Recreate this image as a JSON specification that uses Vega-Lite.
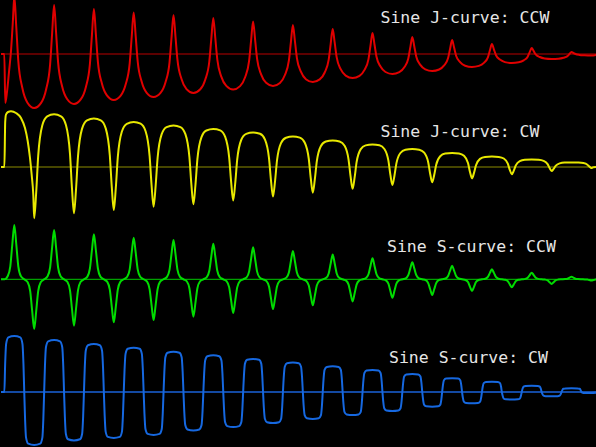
{
"$schema":"https://vega.github.io/schema/vega-lite/v6.json",
"padding":0,
"spacing":0,
"bounds":"flush",
"background":"#000000",
"config":{"view":{"stroke":null},"axis":{"disable":true}},
"vconcat":[
{"width":596,"height":110,"layer":[
{"data":{"values":[{"v":0}]},"mark":{"type":"rule","color":"#b80000","strokeWidth":1},"encoding":{"y":{"field":"v","type":"quantitative","axis":null}}},
{"data":{"values":[{"x":0,"v":0},{"x":3.3,"v":0},{"x":4.3,"v":-49},{"x":6,"v":-38},{"x":8,"v":-18},{"x":10,"v":3},{"x":12,"v":35},{"x":13.3,"v":58},
{"x":15.3,"v":26.6},{"x":17.3,"v":-7},{"x":21.3,"v":-33.8},{"x":26.3,"v":-48.4},{"x":33.2,"v":-54},
{"x":40.1,"v":-48.9},{"x":45.1,"v":-35.5},{"x":49.1,"v":-10.7},{"x":51.1,"v":20.2},{"x":53.1,"v":49},
{"x":55.1,"v":21.3},{"x":57.1,"v":-8.4},{"x":61.1,"v":-32.2},{"x":66.1,"v":-45},{"x":73,"v":-50},
{"x":79.9,"v":-45.2},{"x":84.9,"v":-32.9},{"x":88.9,"v":-10.1},{"x":90.9,"v":18.4},{"x":92.9,"v":45},
{"x":94.9,"v":19.5},{"x":96.9,"v":-7.8},{"x":100.9,"v":-29.6},{"x":105.9,"v":-41.4},{"x":112.8,"v":-46},
{"x":119.7,"v":-41.6},{"x":124.7,"v":-30.3},{"x":128.7,"v":-9.3},{"x":130.7,"v":17},{"x":132.7,"v":41.5},
{"x":134.7,"v":17.8},{"x":136.7,"v":-7.5},{"x":140.7,"v":-27.8},{"x":145.7,"v":-38.8},{"x":152.6,"v":-43},
{"x":159.5,"v":-38.9},{"x":164.5,"v":-28.2},{"x":168.5,"v":-8.6},{"x":170.5,"v":16},{"x":172.5,"v":39},
{"x":174.5,"v":17.2},{"x":176.5,"v":-6.2},{"x":180.5,"v":-25},{"x":185.5,"v":-35.1},{"x":192.4,"v":-39},
{"x":199.3,"v":-35.3},{"x":204.3,"v":-25.5},{"x":208.3,"v":-7.5},{"x":210.3,"v":15},{"x":212.3,"v":36},
{"x":214.3,"v":16},{"x":216.3,"v":-5.5},{"x":220.3,"v":-22.6},{"x":225.3,"v":-31.9},{"x":232.2,"v":-35.5},
{"x":239.1,"v":-32.1},{"x":244.1,"v":-23.3},{"x":248.1,"v":-6.9},{"x":250.1,"v":13.5},{"x":252.1,"v":32.5},
{"x":254.1,"v":14.4},{"x":256.1,"v":-4.9},{"x":260.1,"v":-20.4},{"x":265.1,"v":-28.8},{"x":272,"v":-32},
{"x":278.9,"v":-29},{"x":283.9,"v":-21},{"x":287.9,"v":-6.4},{"x":289.9,"v":11.9},{"x":291.9,"v":29},
{"x":293.9,"v":13},{"x":295.9,"v":-4.1},{"x":299.9,"v":-17.7},{"x":304.9,"v":-25.2},{"x":311.8,"v":-28},
{"x":318.7,"v":-25.4},{"x":323.7,"v":-18.5},{"x":327.7,"v":-5.7},{"x":329.7,"v":10.2},{"x":331.7,"v":25},
{"x":333.7,"v":11.3},{"x":335.7,"v":-3.4},{"x":339.7,"v":-15.2},{"x":344.7,"v":-21.6},{"x":351.6,"v":-24},
{"x":358.5,"v":-21.8},{"x":363.5,"v":-15.9},{"x":367.5,"v":-5.1},{"x":369.5,"v":8.4},{"x":371.5,"v":21},
{"x":373.5,"v":9.5},{"x":375.5,"v":-2.8},{"x":379.5,"v":-12.6},{"x":384.5,"v":-18},{"x":391.4,"v":-20},
{"x":398.3,"v":-18.2},{"x":403.3,"v":-13.3},{"x":407.3,"v":-4.5},{"x":409.3,"v":6.6},{"x":411.3,"v":17},
{"x":413.3,"v":7.5},{"x":415.3,"v":-2.7},{"x":419.3,"v":-10.9},{"x":424.3,"v":-15.3},{"x":431.2,"v":-17},
{"x":438.1,"v":-15.5},{"x":443.1,"v":-11.4},{"x":447.1,"v":-4},{"x":449.1,"v":5.3},{"x":451.1,"v":14},
{"x":453.1,"v":6.4},{"x":455.1,"v":-1.7},{"x":459.1,"v":-8.1},{"x":464.1,"v":-11.7},{"x":471,"v":-13},
{"x":477.9,"v":-11.9},{"x":482.9,"v":-8.9},{"x":486.9,"v":-3.3},{"x":488.9,"v":3.6},{"x":490.9,"v":10},
{"x":492.9,"v":4.7},{"x":494.9,"v":-1},{"x":498.9,"v":-5.6},{"x":503.9,"v":-8.1},{"x":510.8,"v":-9},
{"x":517.7,"v":-8.3},{"x":522.7,"v":-6.3},{"x":526.7,"v":-2.7},{"x":528.7,"v":1.8},{"x":530.7,"v":6},
{"x":532.7,"v":2.9},{"x":534.7,"v":-0.4},{"x":538.7,"v":-3},{"x":543.7,"v":-4.5},{"x":550.6,"v":-5},
{"x":557.5,"v":-4.7},{"x":562.5,"v":-3.7},{"x":566.5,"v":-2.1},{"x":568.5,"v":0},{"x":570.5,"v":2},
{"x":572.5,"v":1},{"x":574.5,"v":0},{"x":578.5,"v":-0.9},{"x":583.5,"v":-1.3},{"x":590.4,"v":-1.5},{"x":596,"v":-0.8}]},
 "mark":{"type":"line","color":"#e00000","strokeWidth":2,"interpolate":"monotone","clip":true},
 "encoding":{"x":{"field":"x","type":"quantitative","scale":{"domain":[0,596],"nice":false,"zero":false},"axis":null},
 "y":{"field":"v","type":"quantitative","scale":{"domain":[-56,54],"nice":false,"zero":false},"axis":null}}},
{"data":{"values":[{"label":"Sine J-curve: CCW","x":379.5,"v":31.5}]},"mark":{"type":"text","font":"DejaVu Sans Mono","fontSize":16.5,"color":"#e6e6e6","align":"left","baseline":"alphabetic"},"encoding":{"text":{"field":"label","type":"nominal"},"x":{"field":"x","type":"quantitative","axis":null},"y":{"field":"v","type":"quantitative","axis":null}}}
]},
{"width":596,"height":111,"layer":[
{"data":{"values":[{"v":0}]},"mark":{"type":"rule","color":"#8c8c00","strokeWidth":1.2},"encoding":{"y":{"field":"v","type":"quantitative","axis":null}}},
{"data":{"values":[{"x":0,"v":0},{"x":3.4,"v":0},{"x":4.2,"v":45},{"x":5,"v":52.5},{"x":7,"v":55},{"x":10,"v":55.7},{"x":15,"v":54},{"x":20,"v":49},{"x":24,"v":39},{"x":26.7,"v":26},{"x":29,"v":9},{"x":30.7,"v":-8},{"x":32.3,"v":-28},{"x":33.2,"v":-51.3},
{"x":35.2,"v":-25.3},{"x":37.2,"v":11.1},{"x":41.2,"v":41.3},{"x":46.2,"v":50.6},{"x":53.1,"v":52.7},
{"x":60,"v":50.7},{"x":65,"v":41.8},{"x":69,"v":13.1},{"x":71,"v":-21.6},{"x":73,"v":-46.3},
{"x":75,"v":-22.6},{"x":77,"v":10.6},{"x":81,"v":38.1},{"x":86,"v":46.6},{"x":92.9,"v":48.5},
{"x":99.8,"v":46.7},{"x":104.8,"v":38.4},{"x":108.8,"v":11.9},{"x":110.8,"v":-20.1},{"x":112.8,"v":-43},
{"x":114.8,"v":-21},{"x":116.8,"v":9.8},{"x":120.8,"v":35.3},{"x":125.8,"v":43.2},{"x":132.7,"v":45},
{"x":139.6,"v":43.3},{"x":144.6,"v":35.7},{"x":148.6,"v":11.1},{"x":150.6,"v":-18.5},{"x":152.6,"v":-39.7},
{"x":154.6,"v":-19.4},{"x":156.6,"v":9},{"x":160.6,"v":32.6},{"x":165.6,"v":39.9},{"x":172.5,"v":41.5},
{"x":179.4,"v":39.9},{"x":184.4,"v":32.8},{"x":188.4,"v":10},{"x":190.4,"v":-17.6},{"x":192.4,"v":-37.3},
{"x":194.4,"v":-18.5},{"x":196.4,"v":7.9},{"x":200.4,"v":29.7},{"x":205.4,"v":36.5},{"x":212.3,"v":38},
{"x":219.2,"v":36.6},{"x":224.2,"v":30.1},{"x":228.2,"v":9.4},{"x":230.2,"v":-15.6},{"x":232.2,"v":-33.5},
{"x":234.2,"v":-16.5},{"x":236.2,"v":7.3},{"x":240.2,"v":27},{"x":245.2,"v":33.1},{"x":252.1,"v":34.5},
{"x":259,"v":33.2},{"x":264,"v":27.4},{"x":268,"v":8.9},{"x":270,"v":-13.6},{"x":272,"v":-29.6},
{"x":274,"v":-14.6},{"x":276,"v":6.5},{"x":280,"v":23.9},{"x":285,"v":29.3},{"x":291.9,"v":30.5},
{"x":298.8,"v":29.4},{"x":303.8,"v":24.3},{"x":307.8,"v":8},{"x":309.8,"v":-11.7},{"x":311.8,"v":-25.7},
{"x":313.8,"v":-12.7},{"x":315.8,"v":5.6},{"x":319.8,"v":20.8},{"x":324.8,"v":25.5},{"x":331.7,"v":26.5},
{"x":338.6,"v":25.5},{"x":343.6,"v":21.2},{"x":347.6,"v":7.2},{"x":349.6,"v":-9.7},{"x":351.6,"v":-21.8},
{"x":353.6,"v":-10.7},{"x":355.6,"v":4.8},{"x":359.6,"v":17.6},{"x":364.6,"v":21.6},{"x":371.5,"v":22.5},
{"x":378.4,"v":21.7},{"x":383.4,"v":18},{"x":387.4,"v":6.3},{"x":389.4,"v":-7.9},{"x":391.4,"v":-18},
{"x":393.4,"v":-9},{"x":395.4,"v":3.6},{"x":399.4,"v":14},{"x":404.4,"v":17.3},{"x":411.3,"v":18},
{"x":418.2,"v":17.3},{"x":423.2,"v":14.3},{"x":427.2,"v":4.7},{"x":429.2,"v":-7},{"x":431.2,"v":-15.3},
{"x":433.2,"v":-8},{"x":435.2,"v":2.3},{"x":439.2,"v":10.8},{"x":444.2,"v":13.4},{"x":451.1,"v":14},
{"x":458,"v":13.5},{"x":463,"v":11.2},{"x":467,"v":3.9},{"x":469,"v":-5},{"x":471,"v":-11.3},
{"x":473,"v":-5.9},{"x":475,"v":1.8},{"x":479,"v":8.1},{"x":484,"v":10.1},{"x":490.9,"v":10.5},
{"x":497.8,"v":10.1},{"x":502.8,"v":8.5},{"x":506.8,"v":3.4},{"x":508.8,"v":-2.9},{"x":510.8,"v":-7.3},
{"x":512.8,"v":-3.6},{"x":514.8,"v":1.6},{"x":518.8,"v":5.9},{"x":523.8,"v":7.2},{"x":530.7,"v":7.5},
{"x":537.6,"v":7.3},{"x":542.6,"v":6.2},{"x":546.6,"v":2.9},{"x":548.6,"v":-1.1},{"x":550.6,"v":-4},
{"x":552.6,"v":-1.9},{"x":554.6,"v":1.1},{"x":558.6,"v":3.6},{"x":563.6,"v":4.4},{"x":570.5,"v":4.5},
{"x":577.5,"v":4.4},{"x":582.4,"v":3.9},{"x":586.4,"v":2.3},{"x":588.4,"v":0.4},{"x":590.4,"v":-1},{"x":592.4,"v":-0.2},{"x":596,"v":0}]},
 "mark":{"type":"line","color":"#e8e800","strokeWidth":2,"interpolate":"monotone","clip":true},
 "encoding":{"x":{"field":"x","type":"quantitative","scale":{"domain":[0,596],"nice":false,"zero":false},"axis":null},
 "y":{"field":"v","type":"quantitative","scale":{"domain":[-54,57],"nice":false,"zero":false},"axis":null}}},
{"data":{"values":[{"label":"Sine J-curve: CW","x":379.5,"v":29.7}]},"mark":{"type":"text","font":"DejaVu Sans Mono","fontSize":16.5,"color":"#e6e6e6","align":"left","baseline":"alphabetic"},"encoding":{"text":{"field":"label","type":"nominal"},"x":{"field":"x","type":"quantitative","axis":null},"y":{"field":"v","type":"quantitative","axis":null}}}
]},
{"width":596,"height":113,"layer":[
{"data":{"values":[{"v":0}]},"mark":{"type":"rule","color":"#00a000","strokeWidth":1.2},"encoding":{"y":{"field":"v","type":"quantitative","axis":null}}},
{"data":{"values":[{"x":0,"v":0},{"x":3.4,"v":0},{"x":6.8,"v":3.3},{"x":9.3,"v":13},{"x":11.3,"v":34.8},{"x":13.3,"v":54.3},{"x":15.3,"v":34.8},{"x":17.3,"v":13},{"x":19.8,"v":3.3},{"x":23.25,"v":0},
{"x":26.7,"v":-3},{"x":29.2,"v":-11.9},{"x":31.2,"v":-31.8},{"x":33.2,"v":-49.7},{"x":35.2,"v":-31.8},{"x":37.2,"v":-11.9},{"x":39.7,"v":-3},{"x":43.15,"v":0},
{"x":46.6,"v":3},{"x":49.1,"v":11.8},{"x":51.1,"v":31.6},{"x":53.1,"v":49.3},{"x":55.1,"v":31.6},{"x":57.1,"v":11.8},{"x":59.6,"v":3},{"x":63.05,"v":0},
{"x":66.5,"v":-2.8},{"x":69,"v":-11.1},{"x":71,"v":-29.7},{"x":73,"v":-46.4},{"x":75,"v":-29.7},{"x":77,"v":-11.1},{"x":79.5,"v":-2.8},{"x":82.95,"v":0},
{"x":86.4,"v":2.7},{"x":88.9,"v":10.8},{"x":90.9,"v":28.8},{"x":92.9,"v":45},{"x":94.9,"v":28.8},{"x":96.9,"v":10.8},{"x":99.4,"v":2.7},{"x":102.85,"v":0},
{"x":106.3,"v":-2.6},{"x":108.8,"v":-10.3},{"x":110.8,"v":-27.5},{"x":112.8,"v":-43},{"x":114.8,"v":-27.5},{"x":116.8,"v":-10.3},{"x":119.3,"v":-2.6},{"x":122.75,"v":0},
{"x":126.2,"v":2.5},{"x":128.7,"v":10},{"x":130.7,"v":26.6},{"x":132.7,"v":41.6},{"x":134.7,"v":26.6},{"x":136.7,"v":10},{"x":139.2,"v":2.5},{"x":142.65,"v":0},
{"x":146.1,"v":-2.4},{"x":148.6,"v":-9.8},{"x":150.6,"v":-26},{"x":152.6,"v":-40.7},{"x":154.6,"v":-26},{"x":156.6,"v":-9.8},{"x":159.1,"v":-2.4},{"x":162.55,"v":0},
{"x":166,"v":2.4},{"x":168.5,"v":9.4},{"x":170.5,"v":25.2},{"x":172.5,"v":39.3},{"x":174.5,"v":25.2},{"x":176.5,"v":9.4},{"x":179,"v":2.4},{"x":182.45,"v":0},
{"x":185.9,"v":-2.2},{"x":188.4,"v":-9},{"x":190.4,"v":-23.9},{"x":192.4,"v":-37.4},{"x":194.4,"v":-23.9},{"x":196.4,"v":-9},{"x":198.9,"v":-2.2},{"x":202.35,"v":0},
{"x":205.8,"v":2.1},{"x":208.3,"v":8.5},{"x":210.3,"v":22.8},{"x":212.3,"v":35.6},{"x":214.3,"v":22.8},{"x":216.3,"v":8.5},{"x":218.8,"v":2.1},{"x":222.25,"v":0},
{"x":225.7,"v":-2},{"x":228.2,"v":-8.1},{"x":230.2,"v":-21.5},{"x":232.2,"v":-33.6},{"x":234.2,"v":-21.5},{"x":236.2,"v":-8.1},{"x":238.7,"v":-2},{"x":242.15,"v":0},
{"x":245.6,"v":1.9},{"x":248.1,"v":7.7},{"x":250.1,"v":20.5},{"x":252.1,"v":32},{"x":254.1,"v":20.5},{"x":256.1,"v":7.7},{"x":258.6,"v":1.9},{"x":262.05,"v":0},
{"x":265.5,"v":-1.8},{"x":268,"v":-7.2},{"x":270,"v":-19.1},{"x":272,"v":-29.8},{"x":274,"v":-19.1},{"x":276,"v":-7.2},{"x":278.5,"v":-1.8},{"x":281.95,"v":0},
{"x":285.4,"v":1.7},{"x":287.9,"v":6.8},{"x":289.9,"v":18.1},{"x":291.9,"v":28.3},{"x":293.9,"v":18.1},{"x":295.9,"v":6.8},{"x":298.4,"v":1.7},{"x":301.85,"v":0},
{"x":305.3,"v":-1.6},{"x":307.8,"v":-6.2},{"x":309.8,"v":-16.6},{"x":311.8,"v":-26},{"x":313.8,"v":-16.6},{"x":315.8,"v":-6.2},{"x":318.3,"v":-1.6},{"x":321.75,"v":0},
{"x":325.2,"v":1.5},{"x":327.7,"v":5.9},{"x":329.7,"v":15.8},{"x":331.7,"v":24.7},{"x":333.7,"v":15.8},{"x":335.7,"v":5.9},{"x":338.2,"v":1.5},{"x":341.65,"v":0},
{"x":345.1,"v":-1.3},{"x":347.6,"v":-5.3},{"x":349.6,"v":-14.2},{"x":351.6,"v":-22.2},{"x":353.6,"v":-14.2},{"x":355.6,"v":-5.3},{"x":358.1,"v":-1.3},{"x":361.55,"v":0},
{"x":365,"v":1.3},{"x":367.5,"v":5},{"x":369.5,"v":13.4},{"x":371.5,"v":21},{"x":373.5,"v":13.4},{"x":375.5,"v":5},{"x":378,"v":1.3},{"x":381.45,"v":0},
{"x":384.9,"v":-1.1},{"x":387.4,"v":-4.4},{"x":389.4,"v":-11.8},{"x":391.4,"v":-18.4},{"x":393.4,"v":-11.8},{"x":395.4,"v":-4.4},{"x":397.9,"v":-1.1},{"x":401.35,"v":0},
{"x":404.8,"v":1},{"x":407.3,"v":4.1},{"x":409.3,"v":10.9},{"x":411.3,"v":17},{"x":413.3,"v":10.9},{"x":415.3,"v":4.1},{"x":417.8,"v":1},{"x":421.25,"v":0},
{"x":424.7,"v":-0.9},{"x":427.2,"v":-3.8},{"x":429.2,"v":-10},{"x":431.2,"v":-15.7},{"x":433.2,"v":-10},{"x":435.2,"v":-3.8},{"x":437.7,"v":-0.9},{"x":441.15,"v":0},
{"x":444.6,"v":0.8},{"x":447.1,"v":3.3},{"x":449.1,"v":8.7},{"x":451.1,"v":13.6},{"x":453.1,"v":8.7},{"x":455.1,"v":3.3},{"x":457.6,"v":0.8},{"x":461.05,"v":0},
{"x":464.5,"v":-0.7},{"x":467,"v":-2.8},{"x":469,"v":-7.5},{"x":471,"v":-11.7},{"x":473,"v":-7.5},{"x":475,"v":-2.8},{"x":477.5,"v":-0.7},{"x":480.95,"v":0},
{"x":484.4,"v":0.6},{"x":486.9,"v":2.4},{"x":488.9,"v":6.4},{"x":490.9,"v":10},{"x":492.9,"v":6.4},{"x":494.9,"v":2.4},{"x":497.4,"v":0.6},{"x":500.85,"v":0},
{"x":504.3,"v":-0.5},{"x":506.8,"v":-1.9},{"x":508.8,"v":-5.1},{"x":510.8,"v":-8},{"x":512.8,"v":-5.1},{"x":514.8,"v":-1.9},{"x":517.3,"v":-0.5},{"x":520.75,"v":0},
{"x":524.2,"v":0.4},{"x":526.7,"v":1.6},{"x":528.7,"v":4.2},{"x":530.7,"v":6.6},{"x":532.7,"v":4.2},{"x":534.7,"v":1.6},{"x":537.2,"v":0.4},{"x":540.65,"v":0},
{"x":544.1,"v":-0.3},{"x":546.6,"v":-1.1},{"x":548.6,"v":-3},{"x":550.6,"v":-4.7},{"x":552.6,"v":-3},{"x":554.6,"v":-1.1},{"x":557.1,"v":-0.3},{"x":560.55,"v":0},
{"x":564,"v":0.2},{"x":566.5,"v":0.6},{"x":568.5,"v":1.7},{"x":570.5,"v":2.6},{"x":572.5,"v":1.7},{"x":574.5,"v":0.6},{"x":577,"v":0.2},{"x":580.45,"v":0},
{"x":583.9,"v":-0.1},{"x":586.4,"v":-0.3},{"x":588.4,"v":-0.8},{"x":590.4,"v":-1.2},{"x":592.4,"v":-0.8},{"x":594.4,"v":-0.3},{"x":596,"v":-0.1}]},
 "mark":{"type":"line","color":"#00dc00","strokeWidth":2,"interpolate":"monotone","clip":true},
 "encoding":{"x":{"field":"x","type":"quantitative","scale":{"domain":[0,596],"nice":false,"zero":false},"axis":null},
 "y":{"field":"v","type":"quantitative","scale":{"domain":[-54.7,58.3],"nice":false,"zero":false},"axis":null}}},
{"data":{"values":[{"label":"Sine S-curve: CCW","x":386,"v":27.6}]},"mark":{"type":"text","font":"DejaVu Sans Mono","fontSize":16.5,"color":"#e6e6e6","align":"left","baseline":"alphabetic"},"encoding":{"text":{"field":"label","type":"nominal"},"x":{"field":"x","type":"quantitative","axis":null},"y":{"field":"v","type":"quantitative","axis":null}}}
]},
{"width":596,"height":113,"layer":[
{"data":{"values":[{"v":0}]},"mark":{"type":"rule","color":"#1a62d8","strokeWidth":1.5},"encoding":{"y":{"field":"v","type":"quantitative","axis":null}}},
{"data":{"values":[{"x":0,"v":0},{"x":3.35,"v":0},{"x":4.15,"v":28},{"x":5.15,"v":48.2},{"x":7.35,"v":54.6},{"x":13.3,"v":56},{"x":19.25,"v":54.6},{"x":21.45,"v":48.2},{"x":22.45,"v":28},{"x":23.25,"v":0},
{"x":24.05,"v":-26.5},{"x":25.05,"v":-45.6},{"x":27.25,"v":-51.7},{"x":33.2,"v":-53},{"x":39.15,"v":-51.7},{"x":41.35,"v":-45.6},{"x":42.35,"v":-26.5},{"x":43.15,"v":0},
{"x":43.95,"v":26},{"x":44.95,"v":44.7},{"x":47.15,"v":50.7},{"x":53.1,"v":52},{"x":59.05,"v":50.7},{"x":61.25,"v":44.7},{"x":62.25,"v":26},{"x":63.05,"v":0},
{"x":63.85,"v":-24.3},{"x":64.85,"v":-41.7},{"x":67.05,"v":-47.3},{"x":73,"v":-48.5},{"x":78.95,"v":-47.3},{"x":81.15,"v":-41.7},{"x":82.15,"v":-24.3},{"x":82.95,"v":0},
{"x":83.75,"v":24},{"x":84.75,"v":41.3},{"x":86.95,"v":46.8},{"x":92.9,"v":48},{"x":98.85,"v":46.8},{"x":101.05,"v":41.3},{"x":102.05,"v":24},{"x":102.85,"v":0},
{"x":103.65,"v":-23},{"x":104.65,"v":-39.6},{"x":106.85,"v":-44.9},{"x":112.8,"v":-46},{"x":118.75,"v":-44.9},{"x":120.95,"v":-39.6},{"x":121.95,"v":-23},{"x":122.75,"v":0},
{"x":123.55,"v":22.2},{"x":124.55,"v":38.1},{"x":126.75,"v":43.2},{"x":132.7,"v":44.3},{"x":138.65,"v":43.2},{"x":140.85,"v":38.1},{"x":141.85,"v":22.2},{"x":142.65,"v":0},
{"x":143.45,"v":-21.5},{"x":144.45,"v":-37},{"x":146.65,"v":-41.9},{"x":152.6,"v":-43},{"x":158.55,"v":-41.9},{"x":160.75,"v":-37},{"x":161.75,"v":-21.5},{"x":162.55,"v":0},
{"x":163.35,"v":20.2},{"x":164.35,"v":34.7},{"x":166.55,"v":39.3},{"x":172.5,"v":40.3},{"x":178.45,"v":39.3},{"x":180.65,"v":34.7},{"x":181.65,"v":20.2},{"x":182.45,"v":0},
{"x":183.25,"v":-19.3},{"x":184.25,"v":-33.1},{"x":186.45,"v":-37.5},{"x":192.4,"v":-38.5},{"x":198.35,"v":-37.5},{"x":200.55,"v":-33.1},{"x":201.55,"v":-19.3},{"x":202.35,"v":0},
{"x":203.15,"v":18.4},{"x":204.15,"v":31.6},{"x":206.35,"v":35.8},{"x":212.3,"v":36.7},{"x":218.25,"v":35.8},{"x":220.45,"v":31.6},{"x":221.45,"v":18.4},{"x":222.25,"v":0},
{"x":223.05,"v":-17.5},{"x":224.05,"v":-30.1},{"x":226.25,"v":-34.1},{"x":232.2,"v":-35},{"x":238.15,"v":-34.1},{"x":240.35,"v":-30.1},{"x":241.35,"v":-17.5},{"x":242.15,"v":0},
{"x":242.95,"v":16.5},{"x":243.95,"v":28.4},{"x":246.15,"v":32.2},{"x":252.1,"v":33},{"x":258.05,"v":32.2},{"x":260.25,"v":28.4},{"x":261.25,"v":16.5},{"x":262.05,"v":0},
{"x":262.85,"v":-15.5},{"x":263.85,"v":-26.7},{"x":266.05,"v":-30.2},{"x":272,"v":-31},{"x":277.95,"v":-30.2},{"x":280.15,"v":-26.7},{"x":281.15,"v":-15.5},{"x":281.95,"v":0},
{"x":282.75,"v":14.7},{"x":283.75,"v":25.3},{"x":285.95,"v":28.7},{"x":291.9,"v":29.4},{"x":297.85,"v":28.7},{"x":300.05,"v":25.3},{"x":301.05,"v":14.7},{"x":301.85,"v":0},
{"x":302.65,"v":-13.5},{"x":303.65,"v":-23.2},{"x":305.85,"v":-26.3},{"x":311.8,"v":-27},{"x":317.75,"v":-26.3},{"x":319.95,"v":-23.2},{"x":320.95,"v":-13.5},{"x":321.75,"v":0},
{"x":322.55,"v":12.9},{"x":323.55,"v":22.1},{"x":325.75,"v":25.1},{"x":331.7,"v":25.7},{"x":337.65,"v":25.1},{"x":339.85,"v":22.1},{"x":340.85,"v":12.9},{"x":341.65,"v":0},
{"x":342.45,"v":-11.5},{"x":343.45,"v":-19.8},{"x":345.65,"v":-22.4},{"x":351.6,"v":-23},{"x":357.55,"v":-22.4},{"x":359.75,"v":-19.8},{"x":360.75,"v":-11.5},{"x":361.55,"v":0},
{"x":362.35,"v":11},{"x":363.35,"v":18.9},{"x":365.55,"v":21.5},{"x":371.5,"v":22},{"x":377.45,"v":21.5},{"x":379.65,"v":18.9},{"x":380.65,"v":11},{"x":381.45,"v":0},
{"x":382.25,"v":-9.5},{"x":383.25,"v":-16.3},{"x":385.45,"v":-18.5},{"x":391.4,"v":-19},{"x":397.35,"v":-18.5},{"x":399.55,"v":-16.3},{"x":400.55,"v":-9.5},{"x":401.35,"v":0},
{"x":402.15,"v":9},{"x":403.15,"v":15.5},{"x":405.35,"v":17.6},{"x":411.3,"v":18},{"x":417.25,"v":17.6},{"x":419.45,"v":15.5},{"x":420.45,"v":9},{"x":421.25,"v":0},
{"x":422.05,"v":-7.4},{"x":423.05,"v":-12.6},{"x":425.25,"v":-14.3},{"x":431.2,"v":-14.7},{"x":437.15,"v":-14.3},{"x":439.35,"v":-12.6},{"x":440.35,"v":-7.4},{"x":441.15,"v":0},
{"x":441.95,"v":6.9},{"x":442.95,"v":11.8},{"x":445.15,"v":13.4},{"x":451.1,"v":13.7},{"x":457.05,"v":13.4},{"x":459.25,"v":11.8},{"x":460.25,"v":6.9},{"x":461.05,"v":0},
{"x":461.85,"v":-5.7},{"x":462.85,"v":-9.7},{"x":465.05,"v":-11},{"x":471,"v":-11.3},{"x":476.95,"v":-11},{"x":479.15,"v":-9.7},{"x":480.15,"v":-5.7},{"x":480.95,"v":0},
{"x":481.75,"v":5.2},{"x":482.75,"v":8.9},{"x":484.95,"v":10},{"x":490.9,"v":10.3},{"x":496.85,"v":10},{"x":499.05,"v":8.9},{"x":500.05,"v":5.2},{"x":500.85,"v":0},
{"x":501.65,"v":-3.8},{"x":502.65,"v":-6.5},{"x":504.85,"v":-7.3},{"x":510.8,"v":-7.5},{"x":516.75,"v":-7.3},{"x":518.95,"v":-6.5},{"x":519.95,"v":-3.8},{"x":520.75,"v":0},
{"x":521.55,"v":3.2},{"x":522.55,"v":5.4},{"x":524.75,"v":6.1},{"x":530.7,"v":6.3},{"x":536.65,"v":6.1},{"x":538.85,"v":5.4},{"x":539.85,"v":3.2},{"x":540.65,"v":0},
{"x":541.45,"v":-2.2},{"x":542.45,"v":-3.7},{"x":544.65,"v":-4.2},{"x":550.6,"v":-4.3},{"x":556.55,"v":-4.2},{"x":558.75,"v":-3.7},{"x":559.75,"v":-2.2},{"x":560.55,"v":0},
{"x":561.35,"v":1.9},{"x":562.35,"v":3.2},{"x":564.55,"v":3.6},{"x":570.5,"v":3.7},{"x":576.45,"v":3.6},{"x":578.65,"v":3.2},{"x":579.65,"v":1.9},{"x":580.45,"v":0},
{"x":581.25,"v":-0.5},{"x":582.25,"v":-0.9},{"x":584.45,"v":-1},{"x":590.4,"v":-1},{"x":596,"v":-0.5}]},
 "mark":{"type":"line","color":"#1668e0","strokeWidth":2,"interpolate":"monotone","clip":true},
 "encoding":{"x":{"field":"x","type":"quantitative","scale":{"domain":[0,596],"nice":false,"zero":false},"axis":null},
 "y":{"field":"v","type":"quantitative","scale":{"domain":[-55,58],"nice":false,"zero":false},"axis":null}}},
{"data":{"values":[{"label":"Sine S-curve: CW","x":388,"v":28.7}]},"mark":{"type":"text","font":"DejaVu Sans Mono","fontSize":16.5,"color":"#e6e6e6","align":"left","baseline":"alphabetic"},"encoding":{"text":{"field":"label","type":"nominal"},"x":{"field":"x","type":"quantitative","axis":null},"y":{"field":"v","type":"quantitative","axis":null}}}
]}
]
}
